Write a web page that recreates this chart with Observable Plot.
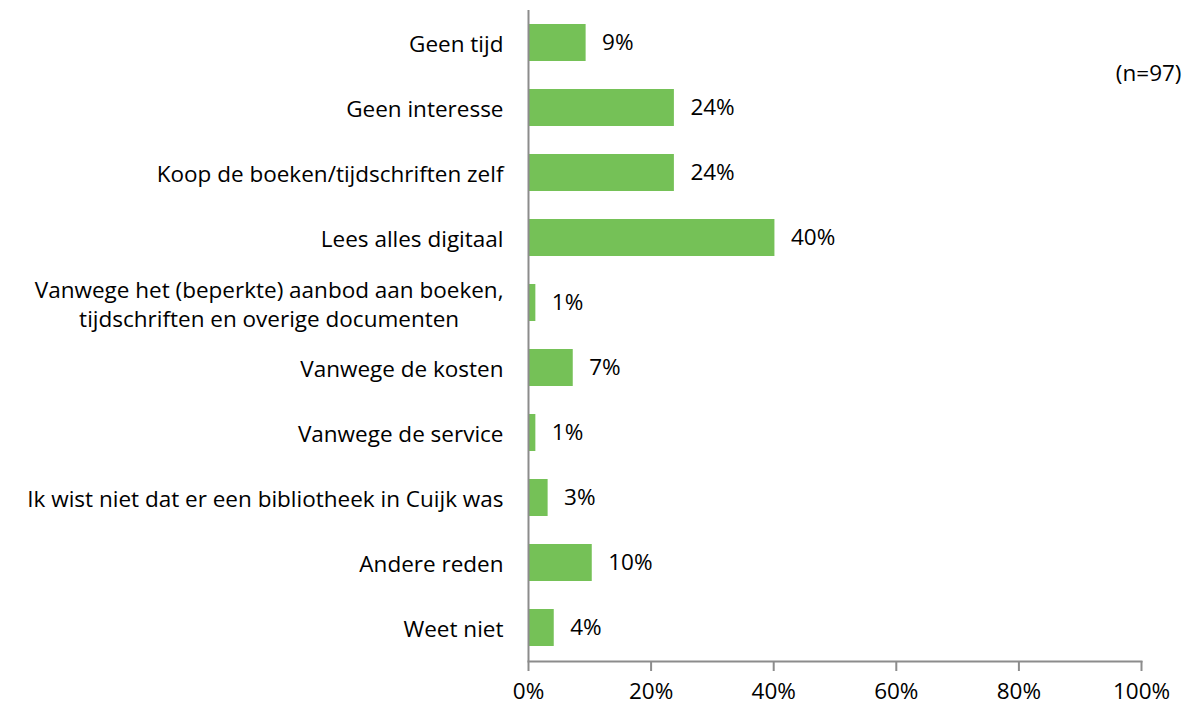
<!DOCTYPE html>
<html>
<head>
<meta charset="utf-8">
<script src="https://cdn.jsdelivr.net/npm/d3@7"></script>
<script src="https://cdn.jsdelivr.net/npm/@observablehq/plot@0.6"></script>
<style>
  body { margin: 0; background: #fff; }
  #chart svg { display: block; }
</style>
</head>
<body>
<div id="chart"></div>
<script>
const categories = [
  "Geen tijd",
  "Geen interesse",
  "Koop de boeken/tijdschriften zelf",
  "Lees alles digitaal",
  "Vanwege het (beperkte) aanbod aan boeken,\ntijdschriften en overige documenten",
  "Vanwege de kosten",
  "Vanwege de service",
  "Ik wist niet dat er een bibliotheek in Cuijk was",
  "Andere reden",
  "Weet niet"
];
const values = [9.4, 23.8, 23.8, 40.2, 1.2, 7.3, 1.2, 3.2, 10.4, 4.2];
const valueLabels = ["9%", "24%", "24%", "40%", "1%", "7%", "1%", "3%", "10%", "4%"];
const xTicks = [0, 20, 40, 60, 80, 100];
const note = "(n=97)";

const data = categories.map((c, i) => ({category: c, value: values[i], label: valueLabels[i]}));

const font = "'Open Sans', sans-serif";
const fs = 22.5;
const axisColor = "#8c8c8c";
const chart = Plot.plot({
  width: 1189,
  height: 709,
  marginLeft: 528,
  marginRight: 48,
  marginTop: 10,
  marginBottom: 48,
  style: {fontFamily: font, fontSize: fs + "px", color: "#000", background: "#fff"},
  x: {domain: [0, 100]},
  y: {domain: categories, paddingInner: 0.43, paddingOuter: 0.215},
  marks: [
    Plot.barX(data, {y: "category", x: "value", fill: "#75C157"}),
    Plot.text(data, {y: "category", x: "value", text: "label", textAnchor: "start", dx: 16, fontSize: fs, fill: "#000"}),
    Plot.axisY({tickSize: 0, tickPadding: 25, fontSize: fs, lineHeight: 1.29, label: null, textAnchor: "end"}),
    Plot.axisX({ticks: xTicks, tickFormat: d => d + "%", tickSize: 10, tickPadding: 12, fontSize: fs, stroke: axisColor, strokeWidth: 2, label: null}),
    Plot.ruleX([0], {stroke: axisColor, strokeWidth: 2}),
    Plot.frame({anchor: "bottom", stroke: axisColor, strokeWidth: 2}),
    Plot.text([note], {frameAnchor: "top-right", dx: 40, dy: 55, textAnchor: "end", fontSize: fs, fill: "#000"})
  ]
});
document.getElementById("chart").appendChild(chart);

// center multi-line y labels relative to each other (block stays right-aligned)
chart.querySelectorAll("text").forEach(t => {
  const spans = t.querySelectorAll("tspan");
  if (spans.length > 1) {
    const widths = Array.from(spans).map(s => s.getComputedTextLength());
    const maxW = Math.max(...widths);
    t.setAttribute("text-anchor", "middle");
    spans.forEach(s => s.setAttribute("x", (-maxW / 2).toString()));
  }
});
</script>
</body>
</html>
